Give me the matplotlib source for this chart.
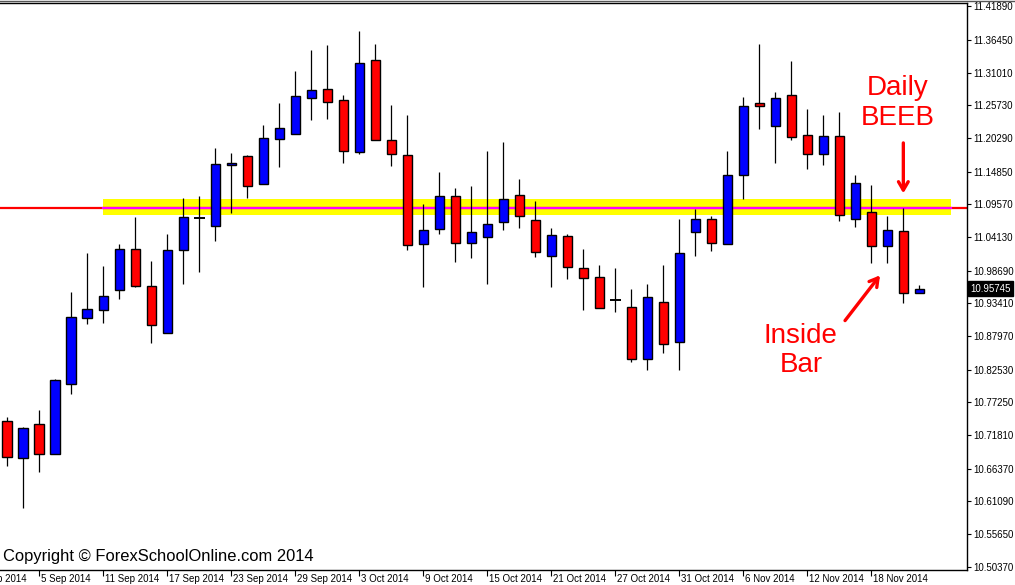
import matplotlib.pyplot as plt
import matplotlib.transforms as mtransforms
from matplotlib.lines import Line2D
import pandas as pd

# Daily candles, 3 Sep 2014 - 21 Nov 2014
# fmt: off
OPEN = [
    10.7411, 10.6816, 10.7362, 10.6882, 10.8024, 10.9102, 10.9222, 10.9549, 11.0218, 10.9614,
    10.8847, 11.0202, 11.0724, 11.0593, 11.1589, 11.1736, 11.1279, 11.2013, 11.2105, 11.2683,
    11.2829, 11.2650, 11.1811, 11.3303, 11.1997, 11.1752, 11.0300, 11.0544, 11.1083, 11.0316,
    11.0414, 11.0659, 11.1099, 11.0691, 11.0104, 11.0430, 10.9908, 10.9761, 10.9399, 10.9271,
    10.8423, 10.9353, 10.8700, 11.0495, 11.0708, 11.0300, 11.1426, 11.2601, 11.2235, 11.2732,
    11.2079, 11.1778, 11.2062, 11.0708, 11.0822, 11.0277, 11.0517, 10.9500,
]
HIGH = [
    10.7486, 10.7318, 10.7595, 10.8106, 10.9521, 11.0153, 10.9945, 11.0300, 11.0745, 11.0027,
    11.0468, 11.1055, 11.1088, 11.1871, 11.1790, 11.1757, 11.2247, 11.2606, 11.3128, 11.3471,
    11.3553, 11.2736, 11.3781, 11.3569, 11.2573, 11.2410, 11.0957, 11.1480, 11.1219, 11.1251,
    11.1822, 11.1969, 11.1365, 11.1006, 11.0566, 11.0468, 11.0223, 10.9962, 10.9913, 10.9570,
    10.9652, 10.9962, 11.0713, 11.0876, 11.0761, 11.1822, 11.2704, 11.3574, 11.2785, 11.3291,
    11.2508, 11.2410, 11.2459, 11.1431, 11.1267, 11.0756, 11.0897, 10.9635,
]
LOW = [
    10.6686, 10.5995, 10.6583, 10.6882, 10.7861, 10.9004, 10.9020, 10.9412, 10.9603, 10.8693,
    10.8847, 10.9657, 10.9852, 11.0358, 11.0815, 11.1060, 11.1279, 11.1566, 11.2105, 11.2333,
    11.2350, 11.1631, 11.1778, 11.1997, 11.1582, 11.0211, 10.9608, 11.0473, 11.0016, 11.0081,
    10.9657, 11.0538, 11.0571, 11.0097, 10.9598, 10.9738, 10.9232, 10.9255, 10.9199, 10.8383,
    10.8253, 10.8530, 10.8253, 11.0113, 11.0195, 11.0300, 11.1044, 11.2190, 11.1631, 11.2007,
    11.1534, 11.1599, 11.0685, 11.0587, 10.9989, 10.9989, 10.9346, 10.9500,
]
CLOSE = [
    10.6833, 10.7301, 10.6882, 10.8085, 10.9108, 10.9239, 10.9451, 11.0218, 10.9614, 10.8977,
    11.0202, 11.0745, 11.0724, 11.1605, 11.1622, 11.1256, 11.2030, 11.2193, 11.2715, 11.2813,
    11.2617, 11.1818, 11.3254, 11.1997, 11.1778, 11.0283, 11.0528, 11.1083, 11.0316, 11.0495,
    11.0626, 11.1034, 11.0757, 11.0169, 11.0446, 10.9924, 10.9745, 10.9255, 10.9399, 10.8423,
    10.9439, 10.8667, 11.0153, 11.0708, 11.0316, 11.1426, 11.2552, 11.2552, 11.2683, 11.2046,
    11.1769, 11.2062, 11.0773, 11.1295, 11.0267, 11.0533, 10.9500, 10.95745,
]
# fmt: on

PRICE_TICKS = [
    11.41890, 11.36450, 11.31010, 11.25730, 11.20290, 11.14850, 11.09570, 11.04130, 10.98690,
    10.93410, 10.87970, 10.82530, 10.77250, 10.71810, 10.66370, 10.61090, 10.55650, 10.50370,
]

LEVEL = 11.0897           # horizontal S/R line
ZONE = (11.0778, 11.1039)  # yellow zone around it

# trading days; chart starts 2 bars after 1 Sep
ALL_DAYS = pd.bdate_range("2014-09-01", "2014-11-21")
FIRST = 2

W, H = 1015, 585
fig = plt.figure(figsize=(W / 100, H / 100), dpi=100)
ax = fig.add_axes([0, 15 / H, 966.7 / W, (570 - 3.2) / H])

n = len(OPEN)
ax.set_xlim(-0.456, 59.96)
ax.set_ylim(10.49835, 11.4238)

# zone + level line, behind the candles
ax.axhspan(ZONE[0], ZONE[1], xmin=(5.98 + 0.456) / 60.416, xmax=(58.98 + 0.456) / 60.416,
           color="#ffff00", zorder=1, lw=0)
ax.axhline(LEVEL, color="#ff0000", lw=1.6, zorder=1.5)
ax.plot([5.98, 58.98], [LEVEL, LEVEL], color="#ff00ff", lw=1.6, zorder=1.6)

for i in range(n):
    o, h, l, c = OPEN[i], HIGH[i], LOW[i], CLOSE[i]
    ax.vlines(i, l, h, color="black", lw=0.9, zorder=2)
    if c == o:
        ax.hlines(o, i - 0.33, i + 0.33, color="black", lw=1.4, zorder=3)
        continue
    col = "#0000ff" if c > o else "#ff0000"
    ax.bar(i, abs(c - o), bottom=min(o, c), width=0.6, color=col,
           edgecolor="black", linewidth=1.0, zorder=3)

# axes styling
ax.spines["left"].set_visible(False)
for s in ["top", "right", "bottom"]:
    ax.spines[s].set_linewidth(1.0)
ax.yaxis.tick_right()
ax.set_yticks(PRICE_TICKS)
ax.set_yticklabels([f"{v:.5f}" for v in PRICE_TICKS], fontsize=7, family="Liberation Sans")
ax.tick_params(axis="y", direction="out", length=3, width=0.8, pad=1.5)

tick_pos = []
trans = mtransforms.blended_transform_factory(ax.transData, ax.transAxes)
for k, d in enumerate(ALL_DAYS):
    if k % 4 != 0:
        continue
    pos = k - FIRST
    if pos >= 0:
        tick_pos.append(pos)
    ax.text(pos + 0.12, -0.007, f"{d.day} {d:%b %Y}", transform=trans, ha="left", va="top",
            fontsize=7, family="Liberation Sans", clip_on=False)
ax.set_xticks(tick_pos)
ax.set_xticklabels([])
ax.tick_params(axis="x", direction="out", length=4.5, width=0.8)

# current price box
ptrans = mtransforms.blended_transform_factory(ax.transAxes, ax.transData)
ax.text(1.004, CLOSE[-1], f"{CLOSE[-1]:.5f}", transform=ptrans, ha="left", va="center",
        fontsize=7, family="Liberation Sans", color="white", clip_on=False,
        bbox=dict(boxstyle="square,pad=0.25", fc="black", ec="black"))

# annotations
ax.text(55.64, 11.2606, "Daily\nBEEB", color="#ff0000", fontsize=20, family="Liberation Sans",
        ha="center", va="center", linespacing=1.18, zorder=5)
ax.annotate("", xy=(56.0, 11.1088), xytext=(56.0, 11.2002),
            arrowprops=dict(arrowstyle="->,head_length=0.6,head_width=0.35", color="#ff0000", lw=2.4),
            zorder=5)
ax.text(49.6, 10.8566, "Inside\nBar", color="#ff0000", fontsize=20, family="Liberation Sans",
        ha="center", va="center", linespacing=1.18, zorder=5)
ax.annotate("", xy=(54.65, 10.9831), xytext=(52.25, 10.9020),
            arrowprops=dict(arrowstyle="->,head_length=0.6,head_width=0.35", color="#ff0000", lw=2.4),
            zorder=5)

fig.text(3 / W, 1 - 557 / H, "Copyright \u00a9 ForexSchoolOnline.com 2014", fontsize=11.9,
         family="Liberation Sans", ha="left", va="center")
fig.add_artist(Line2D([0, 1], [1 - 0.6 / H, 1 - 0.6 / H], color="#555555", lw=1.0))

fig.savefig("out.png", dpi=100)
